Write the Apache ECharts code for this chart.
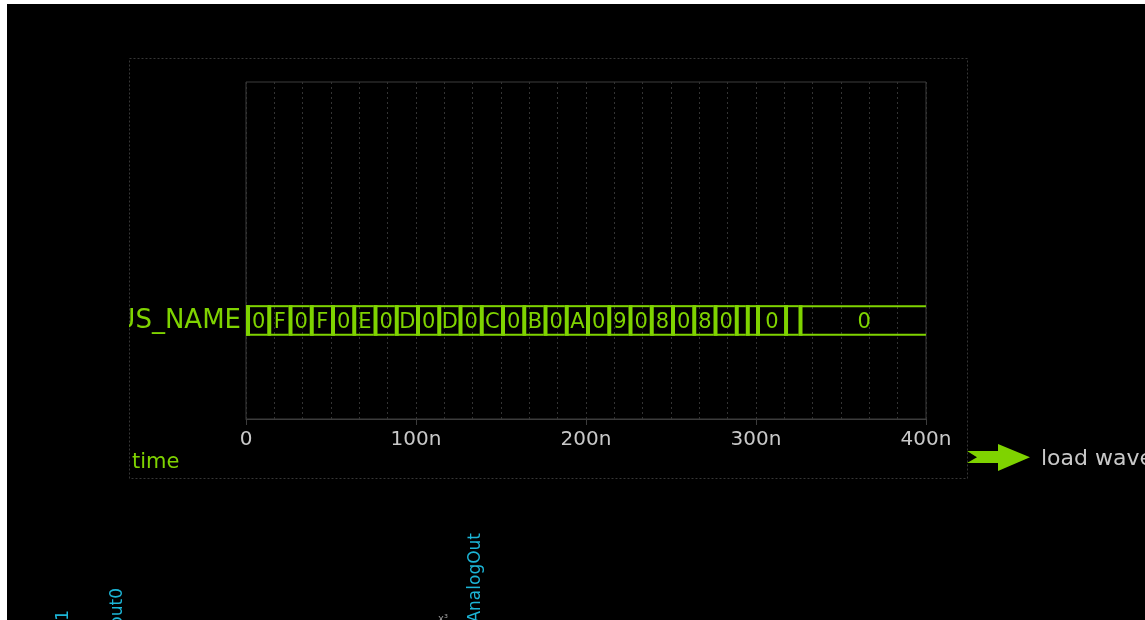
<!DOCTYPE html>
<html>
<head>
<meta charset="utf-8">
<script src="https://cdn.jsdelivr.net/npm/echarts@6/dist/echarts.min.js"></script>
<style>
  html, body { margin: 0; padding: 0; background: #ffffff; overflow: hidden; }
  #chart { position: absolute; left: 7px; top: 4px; width: 1138px; height: 616px; background: #000000; }
</style>
</head>
<body>
<div id="chart"></div>
<script>
// Bus segments: start time (ns) and the value shown inside each segment
const segStart = [0, 12.5, 25, 37.5, 50, 62.5, 75, 87.5, 100, 112.5, 125, 137.5,
                  150, 162.5, 175, 187.5, 200, 212.5, 225, 237.5, 250, 262.5, 275,
                  287.5, 294, 300, 316.5, 325];
const segLabel = ['0', 'F', '0', 'F', '0', 'E', '0', 'D', '0', 'D', '0', 'C',
                  '0', 'B', '0', 'A', '0', '9', '0', '8', '0', '8', '0',
                  '', '', '0', '', '0'];
const timeEnd = 400;
const tickValues = [0, 100, 200, 300, 400];
const tickLabels = ['0', '100n', '200n', '300n', '400n'];
const busName = 'BUS_NAME';

const GREEN = '#7fd300';
const GRAY_TXT = '#c8c8c8';
const CYAN = '#1cb5d6';
const FONT = 'DejaVu Sans';

const segData = segStart.map((s, i) => [s, i + 1 < segStart.length ? segStart[i + 1] : timeEnd]);

const chart = echarts.init(document.getElementById('chart'), null, { renderer: 'canvas' });

function renderSegment(params, api) {
  const s = api.value(0), e = api.value(1);
  const a = api.coord([s, 4]);
  const b = api.coord([e, 3]);
  const w = b[0] - a[0];
  const label = segLabel[params.dataIndex];
  const children = [
    { type: 'rect', shape: { x: a[0], y: a[1] - 1.5, width: w, height: 2 }, style: { fill: GREEN } },
    { type: 'rect', shape: { x: a[0], y: b[1] - 1, width: w, height: 2 }, style: { fill: GREEN } },
    { type: 'rect', shape: { x: a[0], y: a[1] - 1.5, width: 4, height: b[1] - a[1] + 2.5 }, style: { fill: GREEN } }
  ];
  if (label && w > 16) {
    children.push({
      type: 'text',
      style: {
        text: label, x: a[0] + 2 + w / 2, y: (a[1] + b[1]) / 2 + 1.5,
        align: 'center', verticalAlign: 'middle',
        fill: GREEN, font: '21px "' + FONT + '"'
      }
    });
  }
  return { type: 'group', children: children };
}

const option = {
  backgroundColor: '#000000',
  animation: false,
  textStyle: { fontFamily: FONT },
  grid: {
    show: true, left: 239, top: 78, right: 219, bottom: 201,
    borderColor: '#3c3c3c', borderWidth: 1, backgroundColor: 'transparent',
    containLabel: false
  },
  xAxis: {
    type: 'value', min: 0, max: timeEnd, interval: 100,
    axisLine: { show: true, lineStyle: { color: '#3c3c3c', width: 1 } },
    axisTick: { show: true, length: 6, lineStyle: { color: '#3c3c3c' } },
    minorTick: { show: false, splitNumber: 6 },
    minorSplitLine: { show: true, lineStyle: { color: '#333333', type: [2, 3], width: 1 } },
    splitLine: { show: true, lineStyle: { color: '#333333', type: [2, 3], width: 1 } },
    axisLabel: {
      color: GRAY_TXT, fontSize: 20, margin: 11, fontFamily: FONT,
      formatter: v => tickLabels[tickValues.indexOf(v)]
    }
  },
  yAxis: {
    type: 'value', min: 0, max: 12, show: false,
    splitLine: { show: false }
  },
  series: [{
    type: 'custom',
    renderItem: renderSegment,
    data: segData,
    clip: false,
    z: 5
  }],
  graphic: [
    // outer dotted frame
    {
      type: 'rect', z: 1,
      shape: { x: 122.5, y: 54.5, width: 838, height: 420 },
      style: { fill: 'none', stroke: '#363636', lineWidth: 1, lineDash: [2, 2] }
    },
    // bus name, cut at the frame's left edge
    {
      type: 'text', z: 2,
      style: {
        text: busName, x: 234, y: 317, align: 'right', verticalAlign: 'middle',
        fill: GREEN, font: '26px "' + FONT + '"'
      }
    },
    {
      type: 'rect', z: 3,
      shape: { x: 0, y: 290, width: 122, height: 50 },
      style: { fill: '#000000' }
    },
    // x axis name
    {
      type: 'text', z: 2,
      style: {
        text: 'time', x: 125, y: 459, align: 'left', verticalAlign: 'middle',
        fill: GREEN, font: '21px "' + FONT + '"'
      }
    },
    // load arrow
    {
      type: 'polygon', z: 2,
      shape: {
        points: [[960, 447], [991, 447], [991, 440], [1023, 453.3], [991, 467],
                 [991, 459], [960, 459], [970, 453.3]]
      },
      style: { fill: GREEN }
    },
    {
      type: 'text', z: 2,
      style: {
        text: 'load waveform', x: 1034, y: 455, align: 'left', verticalAlign: 'middle',
        fill: GRAY_TXT, font: '22px "' + FONT + '"'
      }
    },
    // vertical signal names along the bottom edge
    {
      type: 'text', z: 2, x: 57, y: 606, rotation: Math.PI / 2,
      style: { text: 'Out1', x: 0, y: 0, align: 'right', verticalAlign: 'middle', fill: CYAN, font: '17px "' + FONT + '"' }
    },
    {
      type: 'text', z: 2, x: 111, y: 584, rotation: Math.PI / 2,
      style: { text: 'out0', x: 0, y: 0, align: 'right', verticalAlign: 'middle', fill: CYAN, font: '17px "' + FONT + '"' }
    },
    {
      type: 'text', z: 2, x: 468.5, y: 529, rotation: Math.PI / 2,
      style: { text: 'AnalogOut', x: 0, y: 0, align: 'right', verticalAlign: 'middle', fill: CYAN, font: '17px "' + FONT + '"' }
    },
    {
      type: 'text', z: 2,
      style: { text: 'x³', x: 431, y: 610, align: 'left', verticalAlign: 'top', fill: '#9a9a9a', font: '10px "' + FONT + '"' }
    }
  ]
};

chart.setOption(option);
</script>
</body>
</html>
